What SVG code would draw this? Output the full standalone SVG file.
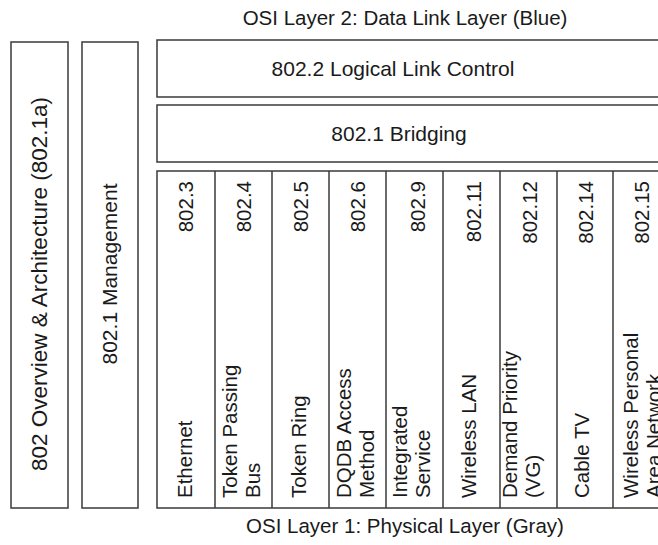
<svg xmlns="http://www.w3.org/2000/svg" width="658" height="545" viewBox="0 0 658 545">
<style>
.box{fill:#fff;stroke:#3a3a3a;stroke-width:1.5}
.ln{stroke:#3a3a3a;stroke-width:1.5}
text{font-family:"Liberation Sans",Arial,sans-serif;font-size:20.5px;fill:#1a1a1a}
.c{text-anchor:middle}
.e{text-anchor:end}
.b{font-size:21px}
</style>
<rect width="658" height="545" fill="#fff"/>
<text class="c" x="405" y="25">OSI Layer 2: Data Link Layer (Blue)</text>
<g id="overview">
<rect class="box" x="11" y="42" width="57" height="466"/>
<text class="c" transform="translate(47,284) rotate(-90)" style="font-size:22.5px">802 Overview &amp; Architecture (802.1a)</text>
</g>
<g id="management">
<rect class="box" x="82" y="42" width="56" height="466"/>
<text class="c b" transform="translate(117,274) rotate(-90)">802.1 Management</text>
</g>
<g id="llc">
<rect class="box" x="157" y="40" width="560" height="57"/>
<text class="c b" x="393" y="76">802.2 Logical Link Control</text>
</g>
<g id="bridging">
<rect class="box" x="157" y="105" width="560" height="57"/>
<text class="c b" x="399" y="141">802.1 Bridging</text>
</g>
<g id="table">
<rect class="box" x="157" y="171" width="560" height="337"/>
<g id="col-lines">
<line class="ln" x1="215" y1="171" x2="215" y2="508"/>
<line class="ln" x1="272" y1="171" x2="272" y2="508"/>
<line class="ln" x1="329" y1="171" x2="329" y2="508"/>
<line class="ln" x1="386" y1="171" x2="386" y2="508"/>
<line class="ln" x1="443" y1="171" x2="443" y2="508"/>
<line class="ln" x1="500" y1="171" x2="500" y2="508"/>
<line class="ln" x1="557" y1="171" x2="557" y2="508"/>
<line class="ln" x1="613" y1="171" x2="613" y2="508"/>
</g>
<g id="c8023">
<text class="e" transform="translate(193,181) rotate(-90)">802.3</text>
<text transform="translate(192,498) rotate(-90)">Ethernet</text>
</g>
<g id="c8024">
<text class="e" transform="translate(251,181) rotate(-90)">802.4</text>
<text transform="translate(237,498) rotate(-90)">Token Passing<tspan x="0" dy="23">Bus</tspan></text>
</g>
<g id="c8025">
<text class="e" transform="translate(308,181) rotate(-90)">802.5</text>
<text transform="translate(306,498) rotate(-90)">Token Ring</text>
</g>
<g id="c8026">
<text class="e" transform="translate(365,181) rotate(-90)">802.6</text>
<text transform="translate(351,498) rotate(-90)">DQDB Access<tspan x="0" dy="23">Method</tspan></text>
</g>
<g id="c8029">
<text class="e" transform="translate(425,181) rotate(-90)">802.9</text>
<text transform="translate(407,498) rotate(-90)">Integrated<tspan x="0" dy="23">Service</tspan></text>
</g>
<g id="c80211">
<text class="e" transform="translate(481,181) rotate(-90)">802.11</text>
<text transform="translate(476,498) rotate(-90)">Wireless LAN</text>
</g>
<g id="c80212">
<text class="e" transform="translate(537,181) rotate(-90)">802.12</text>
<text transform="translate(517,498) rotate(-90)">Demand Priority<tspan x="0" dy="23">(VG)</tspan></text>
</g>
<g id="c80214">
<text class="e" transform="translate(593,181) rotate(-90)">802.14</text>
<text transform="translate(589,498) rotate(-90)">Cable TV</text>
</g>
<g id="c80215">
<text class="e" transform="translate(649,181) rotate(-90)">802.15</text>
<text transform="translate(638,498) rotate(-90)">Wireless Personal<tspan x="0" dy="23">Area Network</tspan></text>
</g>
</g>
<text class="c" x="405" y="533">OSI Layer 1: Physical Layer (Gray)</text>
</svg>
